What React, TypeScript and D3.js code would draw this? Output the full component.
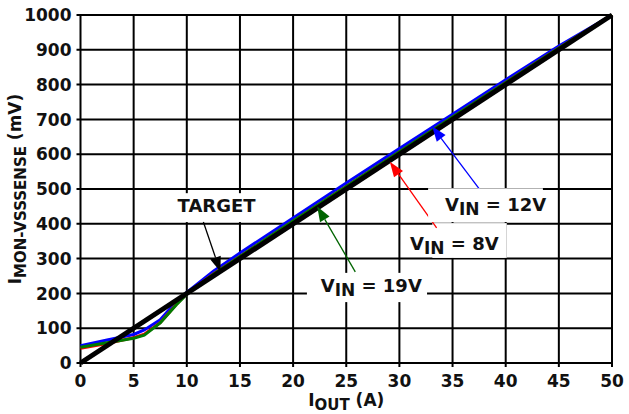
import React from 'react';
import * as d3 from 'd3';

const xTicks = [0, 5, 10, 15, 20, 25, 30, 35, 40, 45, 50];
const yTicks = [0, 100, 200, 300, 400, 500, 600, 700, 800, 900, 1000];

const iout = [0, 2.5, 5, 6, 7.5, 9, 10, 12.5, 15, 20, 25, 30, 35, 40, 45, 50];
const vin12 = [50, 66, 82, 95, 124, 176, 203, 264, 316, 417, 517, 616, 715, 814, 911, 1000];
const vin8 = [42, 56, 73, 83, 116, 168, 199, 256, 306, 407, 507, 606, 706, 806, 905, 1000];
const vin19 = [45, 58, 71, 80, 115, 167, 198, 255, 306, 408, 507, 607, 707, 806, 905, 1000];
const targetX = [0, 50];
const targetY = [0, 1000];

const W = 629;
const H = 414;
const LEFT = 80.5;
const RIGHT = 612;
const TOP = 15;
const BOTTOM = 363;
const FONT = '"DejaVu Sans", Verdana, sans-serif';

const x = d3.scaleLinear().domain([0, 50]).range([LEFT, RIGHT]);
const y = d3.scaleLinear().domain([0, 1000]).range([BOTTOM, TOP]);

const line = d3
  .line<[number, number]>()
  .x((d) => x(d[0]))
  .y((d) => y(d[1]));

const zip = (xs: number[], ys: number[]) => xs.map((v, i) => [v, ys[i]] as [number, number]);

// annotation boxes (data units): [x0, x1, yTop, yBottom]
type Box = [number, number, number, number];
const boxTarget: Box = [8.0, 17.1, 488, 405];
const box19: Box = [21.3, 32.6, 259, 175];
const box8: Box = [33.1, 40.1, 402, 302];
const box12: Box = [32.7, 43.5, 502, 405];

function Rect({ b }: { b: Box }) {
  return (
    <rect
      x={x(b[0])}
      y={y(b[2])}
      width={x(b[1]) - x(b[0])}
      height={y(b[3]) - y(b[2])}
      fill="#fff"
    />
  );
}

function Arrow({ from, to, color }: { from: [number, number]; to: [number, number]; color: string }) {
  const x1 = x(from[0]);
  const y1 = y(from[1]);
  const x2 = x(to[0]);
  const y2 = y(to[1]);
  const ang = Math.atan2(y2 - y1, x2 - x1);
  const len = 15;
  const hw = 5.5;
  const bx = x2 - len * Math.cos(ang);
  const by = y2 - len * Math.sin(ang);
  const px = -Math.sin(ang) * hw;
  const py = Math.cos(ang) * hw;
  return (
    <g>
      <line x1={x1} y1={y1} x2={bx} y2={by} stroke={color} strokeWidth={1.3} />
      <path d={`M${x2},${y2}L${bx + px},${by + py}L${bx - px},${by - py}Z`} fill={color} />
    </g>
  );
}

function VinLabel({ at, value }: { at: [number, number]; value: string }) {
  return (
    <text x={x(at[0])} y={y(at[1])} fontFamily={FONT} fontWeight="bold" fontSize={18} fill="#111">
      V
      <tspan dy={4} fontSize={17}>IN</tspan>
      <tspan dy={-4}>{` = ${value}`}</tspan>
    </text>
  );
}

export default function App() {
  return (
    <svg
      width={W}
      height={H}
      style={{ position: 'absolute', left: 0, top: 0, background: '#fff' }}
    >
      <rect x={0} y={0} width={W} height={H} fill="#fff" />
      {/* grid */}
      {xTicks.map((t) => (
        <line key={'gx' + t} x1={x(t)} x2={x(t)} y1={y(0)} y2={y(1000)} stroke="#000" strokeWidth={2} />
      ))}
      {yTicks.map((t) => (
        <line key={'gy' + t} x1={x(0) - 4} x2={x(50)} y1={y(t)} y2={y(t)} stroke="#000" strokeWidth={2} />
      ))}
      {xTicks.map((t) => (
        <line key={'tx' + t} x1={x(t)} x2={x(t)} y1={y(0)} y2={y(0) + 4} stroke="#000" strokeWidth={2} />
      ))}
      <Rect b={box8} />
      <Rect b={boxTarget} />
      <Rect b={box19} />
      {/* series */}
      <path d={line(zip(iout, vin12)) || ''} fill="none" stroke="#0000ff" strokeWidth={3} />
      <path d={line(zip(iout, vin8)) || ''} fill="none" stroke="#ff0000" strokeWidth={3} />
      <path d={line(zip(iout, vin19)) || ''} fill="none" stroke="#007a00" strokeWidth={3} />
      <path d={line(zip(targetX, targetY)) || ''} fill="none" stroke="#000" strokeWidth={5} />
      {/* arrows */}
      <Arrow from={[11.56, 405]} to={[13.16, 262]} color="#000" />
      <Arrow from={[25.85, 262]} to={[22.27, 450]} color="#006400" />
      <Arrow from={[33.5, 388]} to={[29.1, 578]} color="#ff0000" />
      <Arrow from={[37.6, 497]} to={[33.08, 680]} color="#0000ff" />
      <Rect b={box12} />
      {/* annotation texts */}
      <text x={x(12.8)} y={y(435)} textAnchor="middle" fontFamily={FONT} fontWeight="bold" fontSize={18} fill="#111">
        TARGET
      </text>
      <VinLabel at={[34.3, 438]} value="12V" />
      <VinLabel at={[31.0, 325]} value="8V" />
      <VinLabel at={[22.6, 203]} value="19V" />
      {/* tick labels */}
      {yTicks.map((t) => (
        <text
          key={'ly' + t}
          x={x(0) - 9}
          y={y(t)}
          dy="0.36em"
          textAnchor="end"
          fontFamily={FONT}
          fontWeight="bold"
          fontSize={17}
          fill="#111"
        >
          {t}
        </text>
      ))}
      {xTicks.map((t) => (
        <text
          key={'lx' + t}
          x={x(t)}
          y={y(0) + 24}
          textAnchor="middle"
          fontFamily={FONT}
          fontWeight="bold"
          fontSize={17}
          fill="#111"
        >
          {t}
        </text>
      ))}
      {/* axis titles */}
      <text
        x={(LEFT + RIGHT) / 2}
        y={405.5}
        textAnchor="middle"
        fontFamily={FONT}
        fontWeight="bold"
        fontSize={17}
        fill="#111"
      >
        I<tspan dy={4.5} fontSize={15}>OUT</tspan>
        <tspan dy={-4.5}> (A)</tspan>
      </text>
      <text
        transform={`translate(21,${(TOP + BOTTOM) / 2}) rotate(-90)`}
        textAnchor="middle"
        fontFamily={FONT}
        fontWeight="bold"
        fontSize={17}
        fill="#111"
      >
        I<tspan dy={5} fontSize={15}>MON-VSSSENSE</tspan>
        <tspan dy={-5}> (mV)</tspan>
      </text>
    </svg>
  );
}
